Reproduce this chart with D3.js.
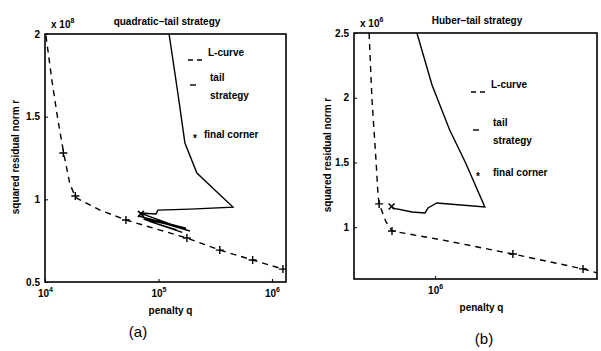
<!DOCTYPE html>
<html>
<head>
<meta charset="utf-8">
<script src="https://cdn.jsdelivr.net/npm/d3@7/dist/d3.min.js"></script>
<style>
  body { margin: 0; background: #fff; }
  svg text { font-family: "Liberation Sans", Arial, sans-serif; fill: #000; }
</style>
</head>
<body>
<div id="chart"></div>
<script>
// ---- panel (a): quadratic-tail strategy (r in units of 1e8) ----
const lcurveA_q = [1.02e4, 1.15e4, 1.30e4, 1.47e4, 1.66e4, 1.87e4, 3.05e4, 5.17e4, 1.03e5, 1.78e5, 3.47e5, 6.76e5, 1.25e6];
const lcurveA_r = [1.99, 1.72, 1.48, 1.27, 1.09, 1.01, 0.935, 0.875, 0.814, 0.766, 0.693, 0.633, 0.578];
const plusA_q = [1.45e4, 1.85e4, 5.17e4, 1.78e5, 3.47e5, 6.76e5, 1.25e6];
const plusA_r = [1.28, 1.02, 0.875, 0.766, 0.693, 0.633, 0.578];
const tailA_q = [1.24e5, 1.49e5, 1.71e5, 2.18e5, 4.53e5, 1.90e5, 9.9e4, 9.5e4, 6.9e4, 1.90e5, 6.6e4, 1.75e5, 7.4e4, 1.62e5, 8.2e4, 1.45e5];
const tailA_r = [2.0, 1.631, 1.341, 1.159, 0.953, 0.941, 0.935, 0.911, 0.917, 0.808, 0.900, 0.825, 0.880, 0.800, 0.868, 0.815];
const cornerA = { q: 7.0e4, r: 0.912 };
const rTicksA = [0.5, 1, 1.5, 2];
const qTicksA = [1e4, 1e5, 1e6];

// ---- panel (b): Huber-tail strategy (r in units of 1e6) ----
const lcurveB_q = [4.55e5, 4.71e5, 4.94e5, 5.06e5, 5.13e5, 5.57e5, 5.98e5, 1.10e6, 2.53e6, 5.84e6, 6.9e6];
const lcurveB_r = [2.5, 1.983, 1.519, 1.249, 1.18, 1.041, 0.971, 0.90, 0.793, 0.678, 0.647];
const plusB_q = [5.13e5, 5.98e5, 2.53e6, 5.84e6];
const plusB_r = [1.18, 0.971, 0.793, 0.678];
const tailB_q = [8.05e5, 9.64e5, 1.19e6, 1.44e6, 1.81e6, 1.02e6, 9.19e5, 8.87e5, 7.59e5, 5.98e5];
const tailB_r = [2.5, 2.098, 1.751, 1.496, 1.156, 1.187, 1.149, 1.11, 1.118, 1.149];
const cornerB = { q: 5.95e5, r: 1.16 };
const rTicksB = [1, 1.5, 2, 2.5];
const qTicksB = [1e6];

const svg = d3.select('#chart').append('svg')
  .attr('width', 601)
  .attr('height', 351);

function zip(qs, rs) {
  return qs.map(function (q, i) { return { q: q, r: rs[i] }; });
}

function drawPanel(p) {
  const x = d3.scaleLog().domain(p.xDomain).range([p.left, p.right]);
  const y = d3.scaleLinear().domain(p.yDomain).range([p.bottom, p.top]);
  const g = svg.append('g');

  // frame
  g.append('rect')
    .attr('x', p.left).attr('y', p.top)
    .attr('width', p.right - p.left).attr('height', p.bottom - p.top)
    .attr('fill', 'none').attr('stroke', '#000').attr('stroke-width', 1.6);

  // y axis (ticks inward)
  const yAxis = g.append('g')
    .attr('transform', 'translate(' + p.left + ',0)')
    .call(d3.axisLeft(y).tickValues(p.yTicks).tickSize(-3).tickPadding(5)
      .tickFormat(function (d) { return d3.format('')(d); }));
  yAxis.select('.domain').remove();
  yAxis.selectAll('text').attr('font-size', 10).attr('font-weight', 'bold')
    .attr('font-family', '"Liberation Sans", Arial, sans-serif');

  // x axis with 10^n labels
  const xAxis = g.append('g')
    .attr('transform', 'translate(0,' + p.bottom + ')')
    .call(d3.axisBottom(x).tickValues(p.xTicks).tickSize(-3).tickPadding(6).tickFormat(''));
  xAxis.select('.domain').remove();
  xAxis.selectAll('.tick').each(function (d) {
    const t = d3.select(this).append('text')
      .attr('y', 15).attr('text-anchor', 'middle')
      .attr('font-size', 10).attr('font-weight', 'bold');
    t.append('tspan').text('10');
    t.append('tspan').attr('dy', -5).attr('font-size', 7).text(Math.round(Math.log10(d)));
  });

  // exponent label
  const ex = g.append('text')
    .attr('x', p.left + 6).attr('y', p.top - 6)
    .attr('font-size', 10).attr('font-weight', 'bold');
  ex.append('tspan').text('x 10');
  ex.append('tspan').attr('dy', -5).attr('font-size', 7).text(p.expo);

  // title
  g.append('text')
    .attr('x', p.titleX).attr('y', p.top - 9)
    .attr('text-anchor', 'middle').attr('font-size', 10).attr('font-weight', 'bold')
    .text(p.title);

  // axis labels
  g.append('text')
    .attr('x', (p.left + p.right) / 2 + p.xLabelShift).attr('y', p.bottom + 32)
    .attr('text-anchor', 'middle').attr('font-size', 10).attr('font-weight', 'bold')
    .text('penalty q');
  g.append('text')
    .attr('transform', 'translate(' + p.yLabelX + ',' + p.yLabelY + ') rotate(-90)')
    .attr('text-anchor', 'middle').attr('font-size', 10).attr('font-weight', 'bold')
    .text('squared residual norm r');

  // caption
  g.append('text')
    .attr('x', p.captionX).attr('y', p.captionY)
    .attr('text-anchor', 'middle').attr('font-size', 15)
    .attr('font-family', '"Liberation Serif", "Times New Roman", serif')
    .text(p.caption);

  const line = d3.line()
    .x(function (d) { return x(d.q); })
    .y(function (d) { return y(d.r); });

  const clip = 'clip-' + p.caption.replace(/[()]/g, '');
  g.append('clipPath').attr('id', clip).append('rect')
    .attr('x', p.left).attr('y', p.top)
    .attr('width', p.right - p.left).attr('height', p.bottom - p.top);
  const plot = g.append('g').attr('clip-path', 'url(#' + clip + ')');

  // L-curve (dashed)
  plot.append('path')
    .datum(p.lcurve)
    .attr('d', line)
    .attr('fill', 'none').attr('stroke', '#000').attr('stroke-width', 1.4)
    .attr('stroke-dasharray', '6,5');

  // tail strategy (solid)
  plot.append('path')
    .datum(p.tail)
    .attr('d', line)
    .attr('fill', 'none').attr('stroke', '#000').attr('stroke-width', 1.4);

  // plus markers on L-curve
  p.plus.forEach(function (d) {
    const cx = x(d.q), cy = y(d.r);
    plot.append('path')
      .attr('d', 'M' + (cx - 4) + ',' + cy + 'H' + (cx + 4) + 'M' + cx + ',' + (cy - 4) + 'V' + (cy + 4))
      .attr('stroke', '#000').attr('stroke-width', 1.4);
  });

  // final corner (x marker)
  const fx = x(p.corner.q), fy = y(p.corner.r);
  plot.append('path')
    .attr('d', 'M' + (fx - 3) + ',' + (fy - 3) + 'L' + (fx + 3) + ',' + (fy + 3) +
      'M' + (fx + 3) + ',' + (fy - 3) + 'L' + (fx - 3) + ',' + (fy + 3))
    .attr('stroke', '#000').attr('stroke-width', 1.6);

  // legend
  const L = p.legend;
  g.append('line')
    .attr('x1', L.x).attr('x2', L.x + 16).attr('y1', L.y1 + 4).attr('y2', L.y1 + 4)
    .attr('stroke', '#000').attr('stroke-width', 1.4).attr('stroke-dasharray', '5,4');
  g.append('text').attr('x', L.tx).attr('y', L.y1).attr('font-size', 10).attr('font-weight', 'bold').text('L-curve');
  g.append('line')
    .attr('x1', L.x + 2).attr('x2', L.x + 8).attr('y1', L.y2 + 4).attr('y2', L.y2 + 4)
    .attr('stroke', '#000').attr('stroke-width', 1.4);
  g.append('text').attr('x', L.tx2).attr('y', L.y2).attr('font-size', 10).attr('font-weight', 'bold').text('tail');
  g.append('text').attr('x', L.tx2).attr('y', L.y2 + 18).attr('font-size', 10).attr('font-weight', 'bold').text('strategy');
  g.append('text').attr('x', L.x + 5).attr('y', L.y3 + 4).attr('font-size', 10).attr('font-weight', 'bold').text('*');
  g.append('text').attr('x', L.tx3).attr('y', L.y3).attr('font-size', 10).attr('font-weight', 'bold').text('final corner');
}

drawPanel({
  left: 45, right: 286, top: 34, bottom: 282,
  xDomain: [1e4, 1.33e6], yDomain: [0.5, 2],
  xTicks: qTicksA, yTicks: rTicksA, expo: '8',
  title: 'quadratic\u2013tail strategy', titleX: 167,
  xLabelShift: 5, yLabelX: 19, yLabelY: 157,
  caption: '(a)', captionX: 138, captionY: 337,
  lcurve: zip(lcurveA_q, lcurveA_r), plus: zip(plusA_q, plusA_r),
  tail: zip(tailA_q, tailA_r), corner: cornerA,
  legend: { x: 188, tx: 208, tx2: 210, tx3: 204, y1: 56, y2: 81, y3: 138 }
});

drawPanel({
  left: 354, right: 597, top: 33, bottom: 279,
  xDomain: [3.8e5, 6.9e6], yDomain: [0.6, 2.5],
  xTicks: qTicksB, yTicks: rTicksB, expo: '6',
  title: 'Huber\u2013tail strategy', titleX: 477,
  xLabelShift: 6, yLabelX: 331, yLabelY: 155,
  caption: '(b)', captionX: 484, captionY: 344,
  lcurve: zip(lcurveB_q, lcurveB_r), plus: zip(plusB_q, plusB_r),
  tail: zip(tailB_q, tailB_r), corner: cornerB,
  legend: { x: 471, tx: 491, tx2: 493, tx3: 493, y1: 88, y2: 126, y3: 176 }
});
</script>
</body>
</html>
